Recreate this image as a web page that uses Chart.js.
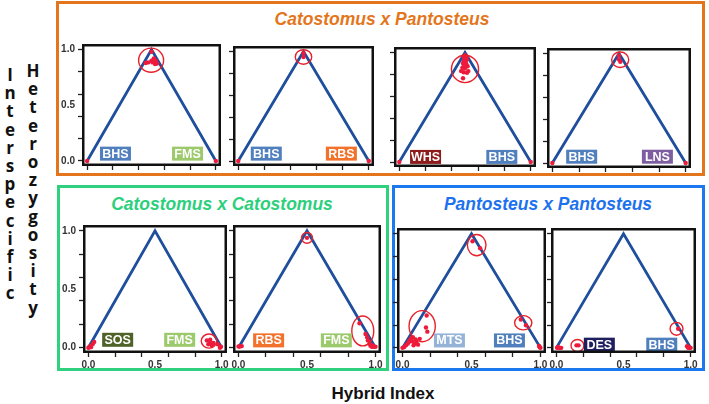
<!DOCTYPE html>
<html>
<head>
<meta charset="utf-8">
<script src="https://cdn.jsdelivr.net/npm/chart.js@4"></script>
<style>
  body { margin:0; width:709px; height:404px; background:#fff; position:relative; overflow:hidden; font-family:"Liberation Sans", Arial, sans-serif; }
  .frame { position:absolute; box-sizing:border-box; border:3.5px solid; }
  .title { position:absolute; font-weight:bold; font-style:italic; font-size:17.5px; line-height:1; white-space:nowrap; transform:translate(-50%,-50%); }
  canvas.panel { position:absolute; }
  .vert { position:absolute; width:20px; font-family:"Open Sans", sans-serif; font-weight:bold; font-size:17px; line-height:18.2px; text-align:center; color:#111; }
  #xtitle { position:absolute; left:383px; top:393px; transform:translate(-50%,-50%); font-weight:bold; font-size:17px; line-height:1; color:#111; white-space:nowrap; }
</style>
</head>
<body>

<div class="frame" style="left:56px;top:1px;width:649px;height:175px;border-color:#e3761c"></div>
<div class="frame" style="left:57px;top:185px;width:332px;height:186px;border-color:#2fd17f"></div>
<div class="frame" style="left:392px;top:185px;width:313px;height:186px;border-color:#1c78ee"></div>

<div id="titles"></div>
<div class="vert" id="ylab1" style="left:0px;top:66px"></div>
<div class="vert" id="ylab2" style="left:23px;top:62px"></div>
<div id="xtitle">Hybrid Index</div>

<script>
// ---- data ----
const groupTitles = ['Catostomus x Pantosteus', 'Catostomus x Catostomus', 'Pantosteus x Pantosteus'];
const yTitleA = 'Interspecific';
const yTitleB = 'Heterozygosity';

const tickValues = [0, 0.2, 0.4, 0.5, 0.6, 0.8, 1.0];
const labelledTicks = [0, 0.5, 1.0];

// expected interspecific heterozygosity for F1 / backcross limits
const triangleX = [0, 0.5, 1];
const triangleY = [0, 1, 0];

const pairs = [
  ['BHS', 'FMS'], ['BHS', 'RBS'], ['WHS', 'BHS'], ['BHS', 'LNS'],
  ['SOS', 'FMS'], ['RBS', 'FMS'], ['MTS', 'BHS'], ['DES', 'BHS']
];

// [hybrid index, interspecific heterozygosity]
const bhsFmsPts = [[0,0],[1,0],[0.5,0.98],[0.518,0.92],[0.533,0.9],[0.508,0.885],[0.543,0.875],
  [0.455,0.88],[0.474,0.885],[0.528,0.87],[0.5,0.9]];
const bhsRbsPts = [[0,0],[1,0],[0.5,0.985],[0.5,0.95]];
const whsBhsPts = [[0,0],[1,0],[0.5,0.975],[0.49,0.96],[0.51,0.955],[0.495,0.94],[0.515,0.935],[0.49,0.92],
  [0.505,0.915],[0.485,0.9],[0.51,0.895],[0.495,0.88],[0.52,0.875],[0.48,0.86],[0.5,0.855],[0.47,0.83],
  [0.525,0.83],[0.49,0.82],[0.515,0.815],[0.485,0.765]];
const bhsLnsPts = [[0,0],[1,0],[0.5,0.98],[0.5,0.945],[0.51,0.925]];
const sosFmsPts = [[0,0],[0.015,0.014],[0.032,0.03],[0.044,0.05],[0.02,0.005],[0.008,0.004],
  [0.889,0.063],[0.914,0.05],[0.9,0.03],[0.926,0.022],[0.914,0.068],[0.938,0.041],[0.97,0.03],[0.995,0.008],[0.987,0]];
const rbsFmsPts = [[0,0.01],[0.01,0.01],[0.024,0.014],[0.5,0.94],[0.883,0.21],[0.927,0.117],[0.939,0.09],
  [0.944,0.063],[0.956,0.035],[0.973,0.008],[0.987,0.008],[1,0.008],[0.963,0.016],[0.98,0.02]];
const mtsBhsPts = [[0,0],[0.0125,0.008],[0.025,0.023],[0.0375,0.037],[0.05,0.065],[0.0625,0.085],[0.045,0.05],
  [0.075,0.093],[0.07,0.057],[0.0875,0.037],[0.1,0.05],[0.095,0.074],[0.125,0.079],[0.1125,0.028],[0.08,0.023],
  [0.175,0.283],[0.17,0.178],[0.18,0.142],[0.5075,0.934],[0.5625,0.872],[0.8575,0.249],[0.895,0.198],
  [0.99,0.017],[1,0],[0.995,0.006]];
const desBhsPts = [[0.005,0],[0.012,0.008],[0.02,0],[0.029,0],[0.036,0],[0.15,0.022],[0.165,0.022],
  [0.907,0.167],[0.973,0.014],[0.981,0],[0.993,0],[0.988,0.008],[1,0]];

// ---- styles / layout ----
const tagColors = { BHS:'#4f7fbd', FMS:'#9cc96b', RBS:'#f2712b', WHS:'#8e1b1b', LNS:'#7c5ea1',
  SOS:'#4f6228', MTS:'#95b3d7', DES:'#1f1f5f' };
const titleColors = ['#e3761c', '#2ccf7c', '#1c72ee'];
const titlePos = [[382, 20], [222, 205], [548, 205]];

// box = frame [left, top, right, bottom]; rings = [cx, cy, rx, ry] in data units
const panels = [
  { pts: bhsFmsPts, box:[82,38,222,166], yLab:true,  xLab:false, tagX:[0.22,0.78],  tagY:0.066, rings:[[0.497,0.905,0.097,0.108]] },
  { pts: bhsRbsPts, box:[233,40,375,166], yLab:false, xLab:false, tagX:[0.215,0.79], tagY:0.068, rings:[[0.5,0.95,0.063,0.066]] },
  { pts: whsBhsPts, box:[394,41,537,167], yLab:false, xLab:false, tagX:[0.2,0.78],   tagY:0.047, rings:[[0.5,0.85,0.103,0.125]] },
  { pts: bhsLnsPts, box:[547,42,692,168], yLab:false, xLab:false, tagX:[0.22,0.788], tagY:0.058, rings:[[0.509,0.943,0.064,0.071]] },
  { pts: sosFmsPts, box:[83,219,228,353], yLab:true,  xLab:true,  tagX:[0.22,0.685], tagY:0.068, rings:[[0.905,0.057,0.058,0.06]] },
  { pts: rbsFmsPts, box:[233,219,382,353], yLab:false, xLab:true, tagX:[0.22,0.714], tagY:0.063, rings:[[0.5,0.94,0.04,0.046],[0.907,0.144,0.08,0.128]] },
  { pts: mtsBhsPts, box:[397,222,547,353], yLab:false, xLab:true, tagX:[0.34,0.775], tagY:0.065, rings:[[0.1425,0.19,0.095,0.136],[0.5375,0.9,0.0675,0.093],[0.875,0.22,0.0625,0.062]] },
  { pts: desBhsPts, box:[551,222,697,353], yLab:false, xLab:true, tagX:[0.32,0.785], tagY:0.028, rings:[[0.157,0.02,0.048,0.053],[0.895,0.167,0.048,0.056]] }
];

// titles + axis words
groupTitles.forEach((t, i) => {
  const d = document.createElement('div');
  d.className = 'title';
  d.textContent = t;
  d.style.color = titleColors[i];
  d.style.left = titlePos[i][0] + 'px';
  d.style.top = titlePos[i][1] + 'px';
  document.getElementById('titles').appendChild(d);
});
[['ylab1', yTitleA], ['ylab2', yTitleB]].forEach(([id, word]) => {
  const el = document.getElementById(id);
  word.split('').forEach(ch => {
    const s = document.createElement('div');
    s.textContent = ch;
    el.appendChild(s);
  });
});

// draws circled groups, species tags and the black panel frame
const extrasPlugin = {
  id: 'extras',
  afterDatasetsDraw(chart, args, opts) {
    const p = opts.panel;
    const { ctx, chartArea: a } = chart;
    const x = chart.scales.x, y = chart.scales.y;
    ctx.save();
    ctx.strokeStyle = '#e8202a';
    ctx.lineWidth = 1.4;
    p.rings.forEach(([cx, cy, rx, ry]) => {
      const px = x.getPixelForValue(cx), py = y.getPixelForValue(cy);
      ctx.beginPath();
      ctx.ellipse(px, py, Math.abs(x.getPixelForValue(cx + rx) - px), Math.abs(y.getPixelForValue(cy + ry) - py), 0, 0, Math.PI * 2);
      ctx.stroke();
    });
    opts.pair.forEach((code, k) => {
      const cx = x.getPixelForValue(p.tagX[k]), cy = y.getPixelForValue(p.tagY);
      ctx.fillStyle = tagColors[code];
      ctx.fillRect(cx - 15.5, cy - 7, 31, 14);
      ctx.fillStyle = '#fff';
      ctx.font = 'bold 12.5px "Liberation Sans", Arial, sans-serif';
      ctx.textAlign = 'center';
      ctx.textBaseline = 'middle';
      ctx.fillText(code, cx, cy + 0.5);
    });
    ctx.strokeStyle = '#111';
    ctx.lineWidth = 2.5;
    ctx.strokeRect(a.left + 1.25, a.top + 1.25, a.width - 2.5, a.height - 2.5);
    ctx.restore();
  }
};

const AX = 26, AY = 17, PAD = 3;

let axisOpts = (min, max, showLabels, isX) => ({
  type: 'linear', min: min, max: max,
  afterFit: s => { if (isX) s.height = AY; else s.width = AX; },
  afterBuildTicks: s => { s.ticks = tickValues.map(v => ({ value: v })); },
  grid: { drawOnChartArea: false, drawTicks: true, tickLength: 4, tickWidth: 1.3,
    tickColor: c => (c.tick && c.tick.value === 0.5) ? 'rgba(0,0,0,0)' : '#222' },
  border: { display: false },
  ticks: { autoSkip: false, maxRotation: 0, padding: isX ? 2 : 3, color: '#333',
    font: { size: 10, weight: 'bold', family: '"Liberation Sans", Arial, sans-serif' },
    callback: v => (showLabels && labelledTicks.includes(v)) ? v.toFixed(1) : '' }
});

let makePanel = (p, i) => {
  const [l, t, r, b] = p.box;
  const w = r - l + AX + PAD, h = b - t + PAD + AY;
  const cv = document.createElement('canvas');
  cv.className = 'panel';
  cv.width = w; cv.height = h;
  cv.style.left = (l - AX) + 'px';
  cv.style.top = (t - PAD) + 'px';
  cv.style.width = w + 'px';
  cv.style.height = h + 'px';
  document.body.appendChild(cv);

  new Chart(cv, {
    type: 'scatter',
    data: {
      datasets: [
        { type: 'line', data: triangleX.map((xv, k) => ({ x: xv, y: triangleY[k] })),
          borderColor: '#1f4f9c', borderWidth: 2.8, pointRadius: 0, tension: 0, fill: false, order: 2 },
        { data: p.pts.map(([xv, yv]) => ({ x: xv, y: yv })),
          backgroundColor: '#ee1a3c', pointRadius: 2.2, pointBorderWidth: 0, order: 1 }
      ]
    },
    options: {
      responsive: false, animation: false, events: [],
      layout: { padding: { top: PAD, right: PAD, left: 0, bottom: 0 } },
      plugins: { legend: { display: false }, tooltip: { enabled: false },
        extras: { panel: p, pair: pairs[i] } },
      scales: {
        x: axisOpts(-0.04, 1.04, p.xLab, true),
        y: axisOpts(-0.045, 1.05, p.yLab, false)
      }
    },
    plugins: [extrasPlugin]
  });
};

panels.forEach(makePanel);
</script>
</body>
</html>
